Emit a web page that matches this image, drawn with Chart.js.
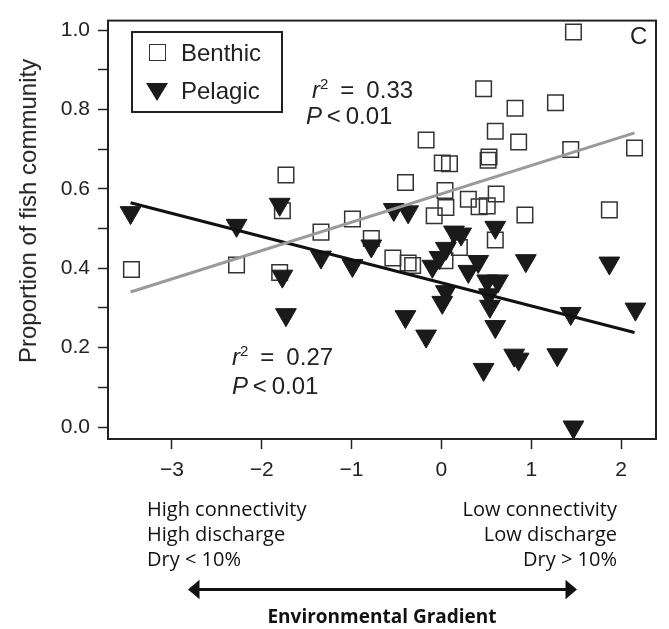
<!DOCTYPE html>
<html>
<head>
<meta charset="utf-8">
<script src="https://cdn.jsdelivr.net/npm/chart.js@4"></script>
<style>
  body { margin: 0; background: #fff; }
  #wrap { position: relative; width: 669px; height: 629px; font-family: "Liberation Sans", Arial, sans-serif; color: #222; }
  #chart { position: absolute; left: 0; top: 0; }
  .abs { position: absolute; white-space: nowrap; }
  .big { font-size: 24px; line-height: 24px; }
  .ytitle { left: 28px; top: 211px; transform: translate(-50%, -50%) rotate(-90deg); font-size: 24px; }
  .legend { left: 131px; top: 31px; width: 148px; height: 78px; border: 2px solid #222; }
  .sq { position: absolute; left: 16px; top: 11px; width: 15px; height: 15px; border: 1.5px solid #333; }
  .tri { position: absolute; left: 13px; top: 50px; width: 0; height: 0; border-left: 11px solid transparent; border-right: 11px solid transparent; border-top: 18px solid #1a1a1a; }
  .note { font-family: "Open Sans", sans-serif; font-size: 20px; line-height: 25px; color: #111; }
  .grad { font-family: "Open Sans", sans-serif; font-weight: bold; font-size: 19px; line-height: 19px; color: #111; }
  sup { font-size: 15px; vertical-align: 9px; line-height: 0; }
</style>
</head>
<body>
<div id="wrap">
  <canvas id="chart" width="669" height="629"></canvas>

  <div class="abs ytitle">Proportion of fish community</div>

  <div class="abs legend">
    <div class="sq"></div>
    <div class="tri"></div>
  </div>
  <div class="abs big" style="left:181px; top:41px;">Benthic</div>
  <div class="abs big" style="left:181px; top:79px;">Pelagic</div>

  <div class="abs big" style="left:312px; top:78px;"><i>r</i><sup>2</sup>&ensp;=&ensp;0.33</div>
  <div class="abs big" style="left:306px; top:104px;"><i>P</i>&thinsp;&lt;&thinsp;0.01</div>
  <div class="abs big" style="left:232px; top:345px;"><i>r</i><sup>2</sup>&ensp;=&ensp;0.27</div>
  <div class="abs big" style="left:232px; top:374px;"><i>P</i>&thinsp;&lt;&thinsp;0.01</div>
  <div class="abs big" style="left:630px; top:24px;">C</div>

  <div class="abs note" style="left:147px; top:496px;">High connectivity<br>High discharge<br>Dry &lt; 10%</div>
  <div class="abs note" style="right:52px; top:496px; text-align:right;">Low connectivity<br>Low discharge<br>Dry &gt; 10%</div>

  <svg class="abs" style="left:0; top:575px;" width="669" height="30">
    <line x1="195" y1="14.5" x2="570" y2="14.5" stroke="#111" stroke-width="3"/>
    <polygon points="188,14.5 199.5,4.8 199.5,24.2" fill="#111"/>
    <polygon points="577,14.5 565.5,4.8 565.5,24.2" fill="#111"/>
  </svg>
  <div class="abs grad" style="left:382px; top:607px; transform:translateX(-50%);">Environmental Gradient</div>
</div>

<script>
// Valeurs (gradient environnemental, proportion)
var benthicX = [-3.45, -2.28, -1.73, -1.77, -1.80, -1.34, -0.99, -0.78, -0.54, -0.37, -0.32, -0.40,
                -0.17, 0.01, 0.09, 0.04, 0.05, -0.08, 0.30, 0.42, 0.51, 0.61, 0.20, 0.04, 0.60,
                0.47, 0.82, 1.27, 0.60, 0.86, 0.53, 0.52, 1.44, 2.15, 0.93, 1.87, 1.47];
var benthicY = [0.397, 0.408, 0.635, 0.545, 0.389, 0.491, 0.524, 0.475, 0.426, 0.413, 0.407, 0.616,
                0.723, 0.665, 0.663, 0.596, 0.553, 0.532, 0.574, 0.555, 0.557, 0.587, 0.452, 0.419, 0.471,
                0.852, 0.803, 0.817, 0.745, 0.718, 0.680, 0.672, 0.699, 0.703, 0.534, 0.547, 0.995];

var pelagicX = [-3.46, -2.28, -1.80, -1.77, -1.73, -1.34, -0.99, -0.78, -0.53, -0.37, -0.10, -0.02,
                0.05, 0.14, 0.22, 0.05, 0.01, 0.30, 0.41, 0.51, 0.63, 0.53, 0.54, 0.60, 0.60,
                0.94, -0.40, -0.17, 0.47, 0.81, 0.86, 1.29, 1.44, 1.87, 2.16, 1.47];
var pelagicY = [0.540, 0.508, 0.561, 0.380, 0.283, 0.428, 0.407, 0.456, 0.548, 0.542, 0.405, 0.427,
                0.450, 0.491, 0.486, 0.341, 0.314, 0.392, 0.417, 0.368, 0.368, 0.333, 0.304, 0.253, 0.503,
                0.419, 0.278, 0.229, 0.145, 0.181, 0.171, 0.182, 0.286, 0.413, 0.297, 0.0];

// Droites de régression (extrémités)
var fitX = [-3.46, 2.15];
var benthicFit = [0.340, 0.741];
var pelagicFit = [0.565, 0.238];

var xTicks = [-3, -2, -1, 0, 1, 2];

function toPoints(xs, ys) {
    return xs.map(function(x, i) { return { x: x, y: ys[i] }; });
}

// Cadre complet autour de la zone du graphique
var boxPlugin = {
    id: 'box',
    afterDraw: function(chart) {
        var a = chart.chartArea, ctx = chart.ctx;
        ctx.save();
        ctx.strokeStyle = '#222';
        ctx.lineWidth = 2;
        ctx.strokeRect(a.left, a.top, a.right - a.left, a.bottom - a.top);
        ctx.restore();
    }
};

var ctx = document.getElementById('chart').getContext('2d');
var chart = new Chart(ctx, {
    type: 'scatter',
    data: {
        datasets: [{
            label: 'Benthic fit',
            type: 'line',
            data: toPoints(fitX, benthicFit),
            borderColor: '#9a9a9a',
            borderWidth: 3,
            pointRadius: 0,
            showLine: true,
            order: 0
        }, {
            label: 'Pelagic fit',
            type: 'line',
            data: toPoints(fitX, pelagicFit),
            borderColor: '#111',
            borderWidth: 3,
            pointRadius: 0,
            showLine: true,
            order: 1
        }, {
            label: 'Pelagic',
            data: toPoints(pelagicX, pelagicY),
            pointStyle: 'triangle',
            rotation: 180,
            pointRadius: 12,
            backgroundColor: '#1a1a1a',
            borderColor: '#1a1a1a',
            borderWidth: 1,
            order: 2
        }, {
            label: 'Benthic',
            data: toPoints(benthicX, benthicY),
            pointStyle: 'rect',
            pointRadius: 11,
            backgroundColor: 'rgba(0,0,0,0)',
            borderColor: '#333',
            borderWidth: 1.5,
            order: 3
        }]
    },
    plugins: [boxPlugin],
    options: {
        responsive: false,
        animation: false,
        devicePixelRatio: 1,
        layout: { padding: { left: 0, right: 12, top: 10, bottom: 150 } },
        plugins: { legend: { display: false }, tooltip: { enabled: false } },
        scales: {
            x: {
                type: 'linear',
                min: -3.711,
                max: 2.389,
                afterFit: function(scale) { scale.height = 40; },
                afterBuildTicks: function(scale) {
                    scale.ticks = xTicks.map(function(v) { return { value: v }; });
                },
                ticks: {
                    autoSkip: false,
                    maxRotation: 0,
                    padding: 9,
                    color: '#222',
                    font: { family: 'Liberation Sans', size: 21 },
                    callback: function(v) { return v < 0 ? '\u2212' + Math.abs(v) : String(v); }
                },
                grid: { display: true, drawOnChartArea: false, drawTicks: true, tickLength: 10, tickWidth: 1.5, tickColor: '#222' },
                border: { display: true, color: '#222', width: 2 }
            },
            y: {
                type: 'linear',
                min: -0.0302,
                max: 1.0238,
                afterFit: function(scale) { scale.width = 108; },
                ticks: {
                    stepSize: 0.1,
                    includeBounds: false,
                    autoSkip: false,
                    padding: 8,
                    color: '#222',
                    font: { family: 'Liberation Sans', size: 21 },
                    callback: function(v) {
                        return Math.round(v * 10) % 2 === 0 ? v.toFixed(1) : '';
                    }
                },
                grid: { display: true, drawOnChartArea: false, drawTicks: true, tickLength: 10, tickWidth: 1.5, tickColor: '#222' },
                border: { display: true, color: '#222', width: 2 }
            }
        }
    }
});
</script>
</body>
</html>
